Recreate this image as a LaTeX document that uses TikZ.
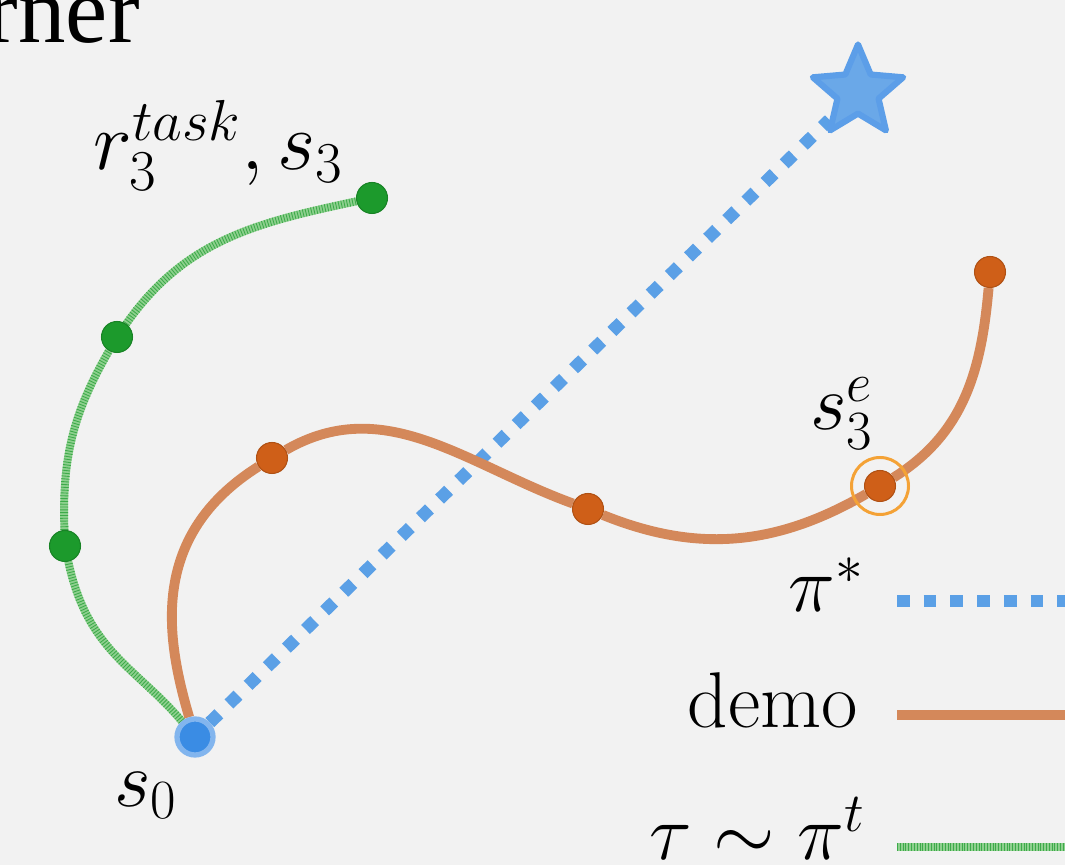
\RequirePackage{fix-cm}
\documentclass[tikz,border=0pt]{standalone}
\usepackage{fontspec}
\newfontfamily\titlefont{Liberation Serif}
\usetikzlibrary{shapes.geometric, positioning, backgrounds}
\definecolor{bgGray}{HTML}{F2F2F2}
\definecolor{optBlue}{HTML}{5BA0E6}
\definecolor{startBlue}{HTML}{3A8CE4}
\definecolor{startRing}{HTML}{82B5EE}
\definecolor{starFill}{HTML}{6AA8E8}
\definecolor{starEdge}{HTML}{5C9EE8}
\definecolor{demoOrange}{HTML}{D4885A}
\definecolor{demoDot}{HTML}{CF5F18}
\definecolor{ringOrange}{HTML}{F4A236}
\definecolor{taskGreen}{HTML}{8ED08E}
\definecolor{taskStripe}{HTML}{3DAA4A}
\definecolor{taskDot}{HTML}{1C9A2C}

\begin{document}
\begin{tikzpicture}[
  lbl/.style={font=\fontsize{45}{54}\selectfont, inner sep=0pt},
  gdot/.style={circle, fill=taskDot, draw=taskDot!85!black, line width=0.6pt,
    minimum size=0.62cm, inner sep=0pt},
  odot/.style={circle, fill=demoDot, draw=demoDot!85!black, line width=0.6pt,
    minimum size=0.62cm, inner sep=0pt},
  demoline/.style={draw=demoOrange, line width=5.6pt},
  optline/.style={draw=optBlue, line width=7.2pt, dash pattern=on 7.2pt off 8pt},
  taskline/.style={draw=taskGreen, line width=4.5pt,
    postaction={draw=taskStripe, dash pattern=on 0.5pt off 1.1pt}}]

  \useasboundingbox (0,0) rectangle (21.3,17.3);

  % start state and goal
  \node[circle, fill=startBlue, draw=startRing, line width=3pt,
    minimum size=0.72cm, inner sep=0pt] (s0) at (3.9,2.56) {};
  \node[star, star points=5, star point ratio=2.2, minimum size=1.9cm,
    inner sep=0pt, fill=starFill, draw=starEdge, line width=3.5pt,
    line join=round] (goal) at (17.16,15.46) {};

  % learner rollout
  \node[gdot] (g1) at (1.3,6.38) {};
  \node[gdot] (g2) at (2.34,10.56) {};
  \node[gdot] (g3) at (7.44,13.34) {};

  % demonstration
  \node[odot] (o1) at (5.44,8.14) {};
  \node[odot] (o2) at (11.76,7.12) {};
  \node[odot] (o3) at (17.6,7.58) {};
  \node[odot] (o4) at (19.8,11.86) {};
  \node[circle, draw=ringOrange, line width=1.7pt, minimum size=1.14cm,
    inner sep=0pt] (o3ring) at (o3) {};

  % labels
  \node[font=\titlefont\fontsize{54}{60}\selectfont, inner sep=0pt,
    anchor=base east] (title) at (2.8,16.44) {rner};
  \node[lbl, font=\fontsize{47}{56}\selectfont, anchor=base west] (g3lab)
    at (1.86,13.9) {$r_3^{task}, s_3$};
  \node[lbl, anchor=base west] (o3lab) at (16.2,8.7) {$s_3^e$};
  \node[lbl, anchor=base west] (s0lab) at (2.28,1.16) {$s_0$};

  % legend
  \node[lbl, anchor=base east] (optlab) at (17.28,5.06) {$\pi^*$};
  \node[lbl, anchor=base east] (demolab) at (17.16,2.74) {demo};
  \node[lbl, anchor=base east] (tasklab) at (17.3,0.1) {$\tau \sim \pi^t$};
  \coordinate (optA) at (17.94,5.28);
  \coordinate (optB) at (21.3,5.28);
  \coordinate (demoA) at (17.94,3.0);
  \coordinate (demoB) at (21.3,3.0);
  \coordinate (taskA) at (17.94,0.36);
  \coordinate (taskB) at (21.3,0.36);

  \begin{scope}[on background layer]
    \fill[bgGray] (0,0) rectangle (21.3,17.3);
    \draw[optline] (s0) -- (goal);
    \draw[taskline] (s0) to[out=130, in=-78, out looseness=0.9, in looseness=1.2] (g1)
      to[out=92, in=-120] (g2) to[out=55, in=192] (g3);
    \draw[demoline] (s0) .. controls (3.3,4.6) and (3.0,6.6) .. (o1)
      to[out=30, in=160] (o2) to[out=-22, in=210] (o3) to[out=32, in=-95] (o4);
    \draw[optline] (optA) -- (optB);
    \draw[demoline] (demoA) -- (demoB);
    \draw[taskline] (taskA) -- (taskB);
  \end{scope}
\end{tikzpicture}
\end{document}
